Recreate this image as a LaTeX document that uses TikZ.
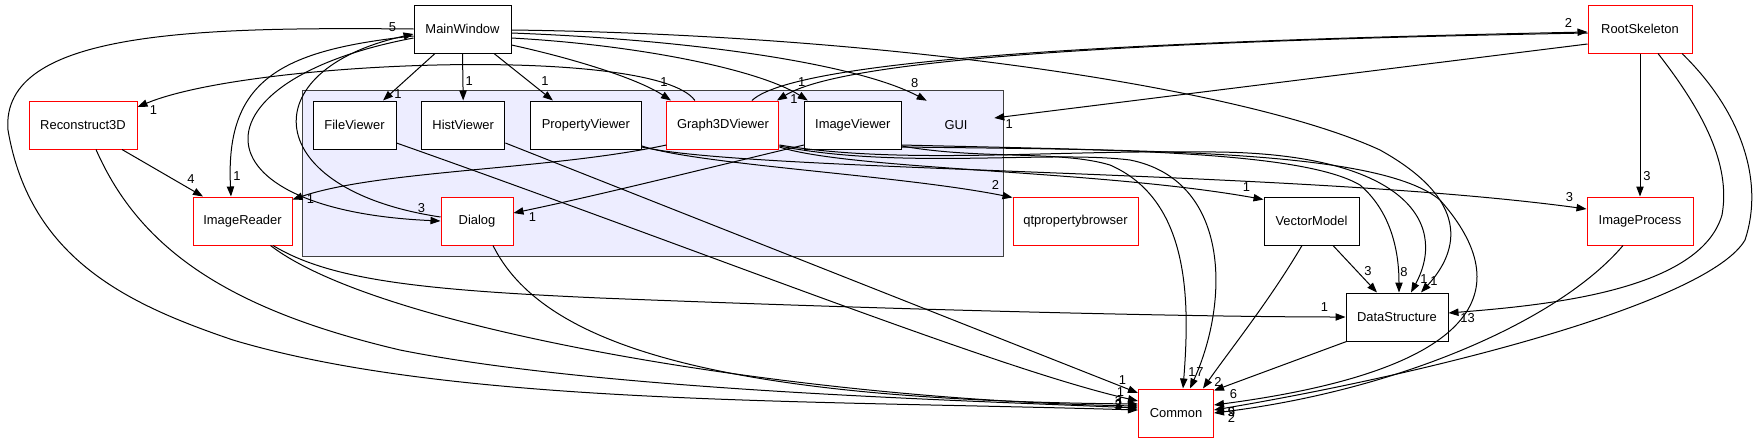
\documentclass[tikz,border=0pt]{standalone}
\usepackage{fontspec}
\setmainfont{Liberation Sans}
\usetikzlibrary{positioning, calc, arrows.meta}

\begin{document}
\begin{tikzpicture}[x=0.75pt, y=-0.75pt, node distance=18.4pt,
    every node/.style={font=\fontsize{9.7}{11}\selectfont},
    dir/.style={draw=black, fill=white, line width=0.75pt, minimum height=36pt, inner sep=0pt},
    reddir/.style={dir, draw=red},
    cluster/.style={draw=black!75, fill=blue!7, line width=0.75pt, inner sep=0pt},
    lbl/.style={inner sep=0pt},
    dep/.style={-{Triangle[length=7.5pt, width=5.5pt]}, line width=0.75pt}]
        \useasboundingbox (0,0) rectangle (1761,443);

        \node[cluster, minimum width=525.75pt, minimum height=124.5pt] (gui) at (652.5,173) {};
        \node[minimum width=57pt, minimum height=36pt, inner sep=0pt] (guil) at (956,125) {GUI};

        \node[dir, minimum width=72.75pt] (mw) at (462.5,29) {MainWindow};
        \node[reddir, minimum width=81pt] (r3d) at (83,125) {Reconstruct3D};
        \node[dir, minimum width=62.25pt] (fv) at (354.5,125) {FileViewer};
        \node[dir, minimum width=62.5pt] (hv) [right=of fv] {HistViewer};
        \node[dir, minimum width=83.25pt] (pv) [right=of hv] {PropertyViewer};
        \node[reddir, minimum width=84pt] (g3d) [right=of pv] {Graph3DViewer};
        \node[dir, minimum width=72.5pt] (iv) [right=of g3d] {ImageViewer};
        \node[reddir, minimum width=74.25pt] (ir) at (242.5,221) {ImageReader};
        \node[reddir, minimum width=54pt] (dlg) at (477,221) {Dialog};
        \node[reddir, minimum width=93.75pt] (qtp) at (1075.5,221) {qtpropertybrowser};
        \node[dir, minimum width=71.25pt] (vm) at (1311.5,221) {VectorModel};
        \node[reddir, minimum width=79.5pt] (ip) at (1640,221) {ImageProcess};
        \node[reddir, minimum width=78pt] (rs) at (1640,29) {RootSkeleton};
        \node[dir, minimum width=76.5pt] (ds) at (1397,317) {DataStructure};
        \node[reddir, minimum width=56.25pt] (cm) at (1176,413) {Common};

        \draw[dep] ($(mw.south)+(-27.5,0)$) -- ($(fv.north)+(28.5,0)$) node[lbl, at end, xshift=11.25pt, yshift=4.5pt] {1};
        \draw[dep] (mw.south) -- (hv.north) node[lbl, at end, xshift=4.5pt, yshift=14.25pt] {1};
        \draw[dep] ($(mw.south)+(31.5,0)$) -- ($(pv.north)+(-33,0)$) node[lbl, at end, xshift=-6pt, yshift=14.25pt] {1};
        \draw[dep] ($(mw.east)+(0,16)$) .. controls (580,60) and (640,80) .. ($(g3d.north)+(-52,0)$) node[lbl, at end, xshift=-5.25pt, yshift=13.5pt] {1};
        \draw[dep] ($(mw.east)+(0,9)$) .. controls (640,45) and (760,70) .. ($(iv.north)+(-45,0)$) node[lbl, at end, xshift=-4.5pt, yshift=13.5pt] {1};
        \draw[dep] ($(mw.east)+(0,4)$) .. controls (700,40) and (860,65) .. ($(guil.north west)+(9,0)$) node[lbl, at end, xshift=-9pt, yshift=13.5pt] {8};
        \draw[dep] ($(mw.east)+(0,1)$) .. controls (900,35) and (1250,90) .. (1380,150) .. controls (1470,200) and (1460,250) .. ($(ds.north)+(24,0)$) node[lbl, at end, xshift=9.75pt, yshift=8.25pt] {1};
        \draw[dep] (mw.west) .. controls (200,27) and (0,30) .. (8,130) .. controls (30,260) and (130,305) .. (233,340) .. controls (450,405) and (800,400) .. ($(cm.west)+(0,-3)$) node[lbl, at end, xshift=-14.6pt, yshift=3.75pt] {2};
        \draw[dep] ($(mw.west)+(0,7)$) .. controls (280,50) and (225,80) .. ($(ir.north)+(-11.5,0)$) node[lbl, at end, xshift=4.5pt, yshift=15pt] {1};
        \draw[dep] ($(mw.west)+(0,9)$) .. controls (190,80) and (190,210) .. (dlg.west) node[lbl, at end, xshift=-14.25pt, yshift=9.75pt] {3};
        \draw[dep] ($(dlg.west)+(0,-4)$) .. controls (260,190) and (250,70) .. ($(mw.west)+(0,5)$) node[lbl, at end, xshift=-15.75pt, yshift=5.25pt] {5};

        \draw[dep] ($(g3d.north)+(-28,0)$) .. controls (655,45) and (250,60) .. ($(r3d.east)+(0,-18)$) node[lbl, at end, xshift=12pt, yshift=-2.25pt] {1};
        \draw[dep] ($(r3d.south)+(39,0)$) -- ($(ir.north)+(-39.5,0)$) node[lbl, at end, xshift=-9pt, yshift=12.75pt] {4};
        \draw[dep] ($(r3d.south)+(13,0)$) .. controls (140,250) and (230,310) .. (400,350) .. controls (600,390) and (950,400) .. ($(cm.west)+(0,-5)$) node[lbl, at end, xshift=-13.9pt, yshift=3.75pt] {1};
        \draw[dep] ($(ir.south)+(30.5,0)$) .. controls (330,280) and (420,290) .. (600,298) .. controls (900,310) and (1200,317) .. (ds.west) node[lbl, at end, xshift=-15.75pt, yshift=7.5pt] {1};
        \draw[dep] ($(ir.south)+(28,0)$) .. controls (380,330) and (800,400) .. ($(cm.west)+(0,-7)$) node[lbl, at end, xshift=-14.6pt, yshift=1.5pt] {2};
        \draw[dep] ($(dlg.south)+(16,0)$) .. controls (540,340) and (700,400) .. ($(cm.west)+(0,-9)$) node[lbl, at end, xshift=-14.6pt, yshift=2.25pt] {3};
        \draw[dep] ($(fv.east)+(0,18)$) .. controls (700,250) and (1000,370) .. ($(cm.west)+(0,-12)$) node[lbl, at end, xshift=-13.1pt, yshift=6.75pt] {1};
        \draw[dep] ($(hv.east)+(0,18)$) -- ($(cm.west)+(0,-20)$) node[lbl, at end, xshift=-11.6pt, yshift=9.75pt] {1};

        \draw[dep] ($(pv.east)+(0,21)$) .. controls (700,165) and (900,175) .. ($(qtp.north west)+(0,1)$) node[lbl, at end, xshift=-12.75pt, yshift=9.75pt] {2};
        \draw[dep] ($(pv.east)+(0,22)$) .. controls (750,172) and (1300,170) .. ($(ip.west)+(0,-12)$) node[lbl, at end, xshift=-12.75pt, yshift=9pt] {3};
        \draw[dep] ($(g3d.west)+(0,20)$) .. controls (550,170) and (380,170) .. ($(ir.north east)+(0,3)$) node[lbl, at end, xshift=13.5pt, yshift=0pt] {1};
        \draw[dep] ($(iv.west)+(0,20)$) .. controls (720,165) and (600,195) .. ($(dlg.east)+(0,-8)$) node[lbl, at end, xshift=14.25pt, yshift=-3pt] {1};
        \draw[dep] ($(g3d.east)+(0,22)$) .. controls (850,170) and (1100,170) .. ($(vm.north west)+(0,3)$) node[lbl, at end, xshift=-12.75pt, yshift=9pt] {1};
        \draw[dep] ($(g3d.east)+(0,21)$) .. controls (900,170) and (1050,150) .. (1130,160) .. controls (1230,180) and (1230,300) .. ($(cm.north)+(14,0)$) node[lbl, at end, xshift=7.5pt, yshift=12pt] {7};
        \draw[dep] ($(g3d.east)+(0,20)$) .. controls (900,165) and (1050,150) .. (1200,152) .. controls (1400,150) and (1450,220) .. ($(ds.north)+(14,0)$) node[lbl, at end, xshift=9.75pt, yshift=9.75pt] {1};
        \draw[dep] ($(iv.east)+(0,21)$) .. controls (980,160) and (1060,150) .. (1110,165) .. controls (1190,200) and (1190,300) .. ($(cm.north)+(7,0)$) node[lbl, at end, xshift=6.75pt, yshift=12pt] {1};
        \draw[dep] ($(iv.east)+(0,20)$) .. controls (1100,150) and (1300,150) .. (1360,185) .. controls (1395,215) and (1399,260) .. ($(ds.north)+(2,0)$) node[lbl, at end, xshift=3.75pt, yshift=15pt] {8};
        \draw[dep] ($(iv.east)+(0,22)$) .. controls (1150,150) and (1380,150) .. (1440,200) .. controls (1520,290) and (1480,370) .. ($(cm.east)+(0,-8)$) node[lbl, at end, xshift=13.1pt, yshift=-5.25pt] {5};

        \draw[dep] ($(g3d.north)+(29,0)$) .. controls (800,55) and (1200,40) .. ($(rs.west)+(0,3)$) node[lbl, at end, xshift=-14.25pt, yshift=6.75pt] {2};
        \draw[dep] ($(rs.west)+(0,4)$) .. controls (1200,40) and (850,55) .. ($(g3d.north)+(54,0)$) node[lbl, at end, xshift=12.75pt, yshift=0.75pt] {1};
        \draw[dep] ($(rs.west)+(0,15)$) -- ($(guil.east)+(0,-7)$) node[lbl, at end, xshift=11.25pt, yshift=-4.5pt] {1};
        \draw[dep] (rs.south) -- (ip.north) node[lbl, at end, xshift=5.25pt, yshift=15pt] {3};
        \draw[dep] ($(rs.south)+(18,0)$) .. controls (1710,120) and (1730,170) .. (1722,215) .. controls (1700,290) and (1550,305) .. ($(ds.east)+(0,-4)$) node[lbl, at end, xshift=14.25pt, yshift=-3.75pt] {13};
        \draw[dep] ($(rs.south)+(42,0)$) .. controls (1740,110) and (1765,180) .. (1745,240) .. controls (1710,300) and (1450,370) .. ($(cm.east)+(0,-3)$) node[lbl, at end, xshift=13.1pt, yshift=-1.5pt] {9};
        \draw[dep] ($(ip.south)+(-17,0)$) .. controls (1560,320) and (1400,390) .. (cm.east) node[lbl, at end, xshift=13.1pt, yshift=-3.75pt] {2};

        \draw[dep] ($(vm.south)+(-9.5,0)$) .. controls (1270,300) and (1230,350) .. ($(cm.north)+(27,0)$) node[lbl, at end, xshift=11.25pt, yshift=5.25pt] {2};
        \draw[dep] ($(vm.south)+(21.5,0)$) -- ($(ds.north)+(-20,0)$) node[lbl, at end, xshift=-6.75pt, yshift=15.75pt] {3};
        \draw[dep] ($(ds.south west)+(1,0)$) -- ($(cm.north east)+(0,2)$) node[lbl, at end, xshift=14.6pt, yshift=-3pt] {6};
    \end{tikzpicture}
\end{document}
